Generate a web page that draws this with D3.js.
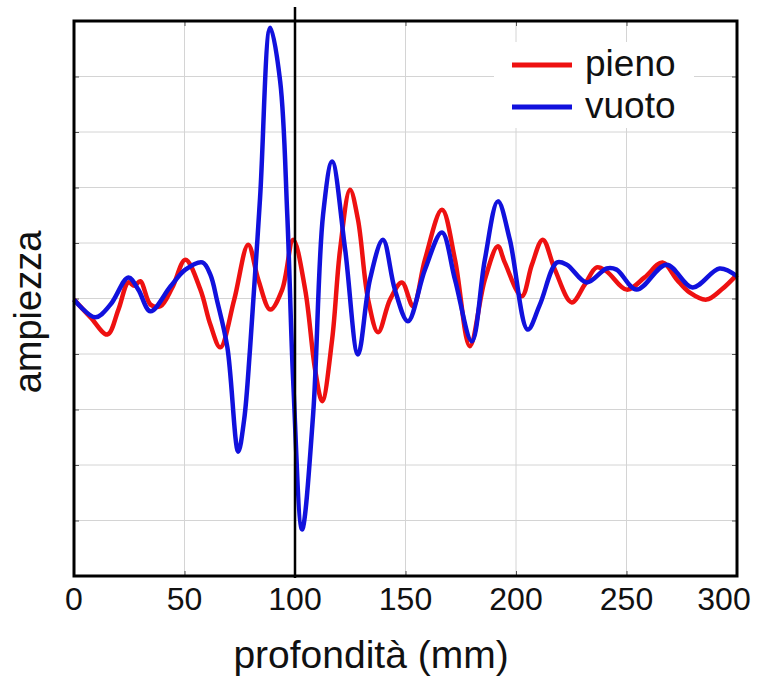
<html>
<head>
<meta charset="utf-8">
<title>ampiezza</title>
<script src="https://d3js.org/d3.v7.min.js"></script>
<style>
  body { margin: 0; background: #fff; }
  text { font-family: "Liberation Sans", Arial, sans-serif; fill: #111; }
</style>
</head>
<body>
<script>
// profondità (mm) / ampiezza readings
const pienoX = [0, 7.5, 15.1, 20.1, 24.6, 27.3, 30, 34.6, 39.1, 44.5, 50.4, 57.2, 61.7, 66.2, 72.5, 78.8, 83.4, 88.8, 94.2, 99.2,
  104.6, 109.1, 112.3, 116.8, 120.4, 124.9, 128.5, 133.1, 137.6, 143, 148.4, 153.4, 158.8, 166.5, 172.4, 179.1, 185.9, 191.8, 194.9, 202.6,
  207.2, 212.1, 217.6, 225.2, 231.1, 236.5, 241, 250.1, 258.2, 266.3, 272.8, 278.5, 286.2, 293, 300];
const pienoY = [-0.02, -0.34, -0.65, -0.2, 0.29, 0.23, 0.31, -0.11, -0.14, 0.2, 0.7, 0.16, -0.47, -0.88, -0.02, 0.97, 0.34, -0.2, 0.16, 1.06,
  0.16, -1.28, -1.85, -0.74, 0.88, 1.96, 1.42, -0.02, -0.61, -0.02, 0.29, -0.14, 0.7, 1.6, 0.7, -0.86, 0.34, 0.94, 0.65, 0.04,
  0.61, 1.06, 0.52, -0.07, 0.25, 0.56, 0.49, 0.16, 0.38, 0.65, 0.34, 0.11, -0.02, 0.16, 0.43];

const vuotoX = [0, 9.7, 16.5, 24.6, 29.1, 34.6, 43.7, 50.4, 58.1, 61.7, 64.8, 69.4, 74.3, 77, 79.7, 84.2, 88.8, 93.3, 96.5, 99.2,
  103.2, 108.2, 112.7, 116.8, 122.7, 128.5, 133.9, 139.8, 145.2, 151.1, 158.8, 166.5, 172.4, 180, 185.9, 191.8, 197.2, 205.3, 210.8, 218.5,
  223, 232, 241, 245.5, 254.6, 268.1, 279.9, 292.1, 300];
const vuotoY = [-0.02, -0.34, -0.11, 0.38, 0.16, -0.23, 0.22, 0.52, 0.65, 0.43, -0.05, -0.88, -2.76, -2.18, -0.88, 1.82, 4.88, 3.91, 1.51, -1.5,
  -4.16, -2.09, 1.51, 2.47, 0.88, -1.01, 0.34, 1.06, 0.16, -0.41, 0.52, 1.19, 0.34, -0.77, 0.7, 1.75, 1.06, -0.56, -0.11, 0.65,
  0.61, 0.29, 0.54, 0.52, 0.16, 0.61, 0.2, 0.54, 0.4];

const xTicks = [0, 50, 100, 150, 200, 250, 300];
const yTicks = [-5, -4, -3, -2, -1, 0, 1, 2, 3, 4, 5];
const seriesNames = ["pieno", "vuoto"];
const seriesColors = ["#ee1111", "#1111dd"];

const w = 759, h = 677;
const mLeft = 74, mRight = 737, mTop = 21, mBottom = 576;

const svg = d3.select("body").append("svg")
  .attr("width", w)
  .attr("height", h);

const x = d3.scaleLinear().domain([0, 300]).range([mLeft, mRight]);
const y = d3.scaleLinear().domain([-5, 5]).range([mBottom, mTop]);

// grid
svg.append("g").selectAll("line").data(xTicks.slice(1, -1)).enter().append("line")
  .attr("x1", d => x(d)).attr("x2", d => x(d)).attr("y1", mTop).attr("y2", mBottom)
  .attr("stroke", "#d4d4d4").attr("stroke-width", 1);
svg.append("g").selectAll("line").data(yTicks.slice(1, -1)).enter().append("line")
  .attr("x1", mLeft).attr("x2", mRight).attr("y1", d => y(d)).attr("y2", d => y(d))
  .attr("stroke", "#d4d4d4").attr("stroke-width", 1);

// inner ticks on all four sides
const tickStyle = g => g.call(s => s.select(".domain").remove())
  .call(s => s.selectAll("line").attr("stroke", "#555"));
svg.append("g").attr("transform", `translate(0,${mBottom})`)
  .call(d3.axisBottom(x).tickValues(xTicks).tickSize(-5).tickFormat(""))
  .call(tickStyle);
svg.append("g").attr("transform", `translate(0,${mTop})`)
  .call(d3.axisTop(x).tickValues(xTicks).tickSize(-5).tickFormat(""))
  .call(tickStyle);
svg.append("g").attr("transform", `translate(${mLeft},0)`)
  .call(d3.axisLeft(y).tickValues(yTicks).tickSize(-5).tickFormat(""))
  .call(tickStyle);
svg.append("g").attr("transform", `translate(${mRight},0)`)
  .call(d3.axisRight(y).tickValues(yTicks).tickSize(-5).tickFormat(""))
  .call(tickStyle);

// x tick labels
svg.append("g").selectAll("text").data(xTicks).enter().append("text")
  .attr("x", d => x(d) + (d === 300 ? -13 : 0))
  .attr("y", 610)
  .attr("text-anchor", "middle")
  .attr("font-size", 32)
  .text(d => d);

// curves
const line = d3.line().x(d => x(d[0])).y(d => y(d[1])).curve(d3.curveCatmullRom.alpha(0.5));
const series = [d3.zip(pienoX, pienoY), d3.zip(vuotoX, vuotoY)];
svg.append("g").selectAll("path").data(series).enter().append("path")
  .attr("d", line)
  .attr("fill", "none")
  .attr("stroke", (d, i) => seriesColors[i])
  .attr("stroke-width", 4.5)
  .attr("stroke-linejoin", "round");

// frame
svg.append("rect")
  .attr("x", mLeft).attr("y", mTop)
  .attr("width", mRight - mLeft).attr("height", mBottom - mTop)
  .attr("fill", "none").attr("stroke", "#000").attr("stroke-width", 3);

// marker at 100 mm
svg.append("line")
  .attr("x1", x(100)).attr("x2", x(100))
  .attr("y1", 7).attr("y2", mBottom + 2)
  .attr("stroke", "#000").attr("stroke-width", 2.5);

// legend
const legend = svg.append("g");
legend.append("rect")
  .attr("x", 494).attr("y", 42).attr("width", 200).attr("height", 86)
  .attr("fill", "#fff");
seriesNames.forEach((name, i) => {
  const ly = 65 + i * 42;
  legend.append("line")
    .attr("x1", 512).attr("x2", 572).attr("y1", ly).attr("y2", ly)
    .attr("stroke", seriesColors[i]).attr("stroke-width", 5);
  legend.append("text")
    .attr("x", 585).attr("y", ly + 11)
    .attr("font-size", 37)
    .text(name);
});

// axis titles
svg.append("text")
  .attr("x", 371).attr("y", 668)
  .attr("text-anchor", "middle")
  .attr("font-size", 39)
  .text("profondità (mm)");
svg.append("text")
  .attr("transform", "translate(41,312) rotate(-90)")
  .attr("text-anchor", "middle")
  .attr("font-size", 38)
  .text("ampiezza");
</script>
</body>
</html>
